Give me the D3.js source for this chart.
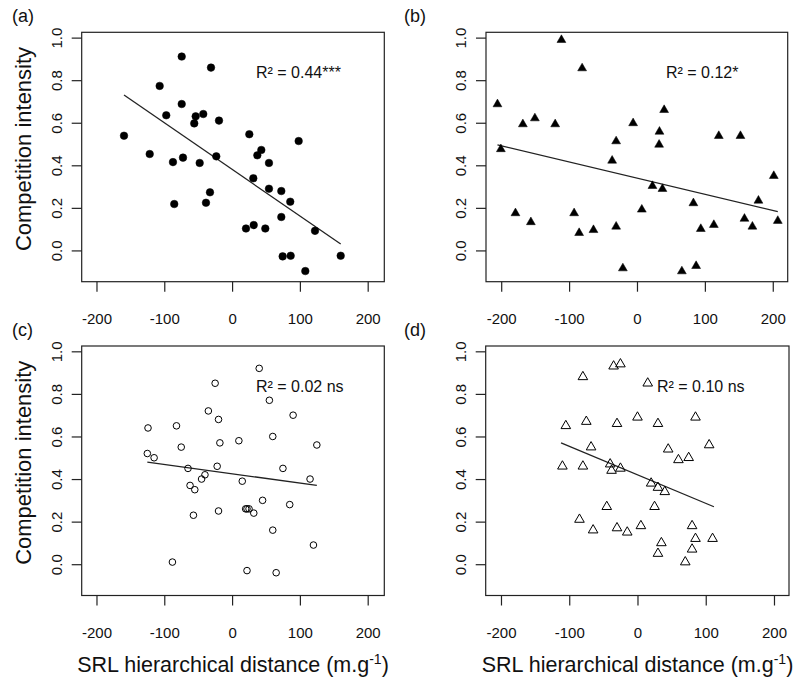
<!DOCTYPE html>
<html><head><meta charset="utf-8">
<script src="https://cdn.jsdelivr.net/npm/d3@7"></script>
<style>
body{margin:0;background:#fff;}
svg{display:block;font-family:"Liberation Sans",Arial,sans-serif;}
</style></head>
<body>
<svg id="chart" width="801" height="679"></svg>
<script>
// ---- tick labels ----
const xTicks = [-200, -100, 0, 100, 200];
const yTicks = [0.0, 0.2, 0.4, 0.6, 0.8, 1.0];
const yTickLabels = ["0.0", "0.2", "0.4", "0.6", "0.8", "1.0"];
const panelLabels = ["(a)", "(b)", "(c)", "(d)"];
const r2Labels = ["R² = 0.44***", "R² = 0.12*", "R² = 0.02 ns", "R² = 0.10 ns"];
const yTitle = "Competition intensity";

// ---- panel (a): filled circles ----
const aX = [-74.3,-31.1,-106.8,-74.3,-97.1,-53.7,-42.5,-55.8,-19.3,-159.4,-121.5,-23.3,-72.4,-87.2,-47.8,-32.6,-38.5,-85.3,25.4,98.2,43.1,37.2,54.4,31.3,54.4,72.6,85.8,72.6,20.5,31.9,49.0,122.3,74.6,86.4,160.2,108.0];
const aY = [0.911,0.859,0.773,0.688,0.635,0.630,0.641,0.597,0.610,0.539,0.453,0.442,0.436,0.415,0.411,0.273,0.224,0.218,0.546,0.514,0.472,0.447,0.411,0.339,0.290,0.279,0.229,0.157,0.103,0.119,0.103,0.092,-0.028,-0.025,-0.025,-0.097];
const aFitX = [-159.4, 160.2];
const aFitY = [0.730, 0.030];

// ---- panel (b): filled triangles ----
const bX = [-111.3,-80.8,-205.5,-168.1,-150.4,-120.5,-5.7,-30.7,-200.5,40.0,33.1,32.6,120.5,152.4,-36.6,-179.0,-156.3,-92.6,-85.2,-64.1,-30.7,-20.8,22.8,37.5,7.1,83.1,94.0,113.2,66.1,87.1,201.5,178.9,158.3,170.0,207.4];
const bY = [0.989,0.856,0.687,0.593,0.621,0.593,0.598,0.513,0.476,0.660,0.558,0.497,0.538,0.538,0.422,0.175,0.133,0.175,0.082,0.096,0.112,-0.084,0.303,0.289,0.192,0.222,0.101,0.120,-0.098,-0.073,0.350,0.234,0.149,0.112,0.139];
const bFitX = [-205.5, 207.4];
const bFitY = [0.496, 0.182];

// ---- panel (c): open circles ----
const cX = [-124,-125,-115,-82,-75,-88,-65,-62,-55,-57,-45,-40,-35,-25,-20,-18,-22,-20,40,10,15,20,22,25,22,32,45,55,60,60,65,75,85,90,115,120,125];
const cY = [0.64,0.52,0.50,0.65,0.55,0.01,0.45,0.37,0.35,0.23,0.40,0.42,0.72,0.85,0.68,0.57,0.46,0.25,0.92,0.58,0.39,0.26,0.26,0.26,-0.03,0.24,0.30,0.77,0.16,0.60,-0.04,0.45,0.28,0.70,0.40,0.09,0.56];
const cFitX = [-125, 125];
const cFitY = [0.48, 0.37];

// ---- panel (d): open triangles ----
const dX = [-110,-105,-85,-80,-80,-75,-68,-65,-45,-40,-38,-35,-30,-30,-25,-25,-15,0,5,15,20,25,30,30,30,35,40,45,60,70,75,80,85,85,80,105,110];
const dY = [0.46,0.65,0.21,0.88,0.46,0.67,0.55,0.16,0.27,0.47,0.44,0.93,0.66,0.17,0.94,0.45,0.15,0.69,0.18,0.85,0.38,0.27,0.36,0.66,0.05,0.10,0.34,0.54,0.49,0.01,0.50,0.18,0.69,0.12,0.07,0.56,0.12];
const dFitX = [-112, 112];
const dFitY = [0.57, 0.27];

const svg = d3.select("#chart");
const FONT = '"Liberation Sans",Arial,sans-serif';

const panels = [
  {xs:aX, ys:aY, fx:aFitX, fy:aFitY, shape:"circle", filled:true,  box:[81.7,32.3,384.3,281.7], r2x:256, lbl:[12,22], xdom:[-221.8,224.5], ylab:true},
  {xs:bX, ys:bY, fx:bFitX, fy:bFitY, shape:"triangle", filled:true, box:[486,32.3,787.7,281.7], r2x:666, lbl:[404,22], xdom:[-222.4,222.0], ylab:false},
  {xs:cX, ys:cY, fx:cFitX, fy:cFitY, shape:"circle", filled:false, box:[81.7,346,384.3,595.5], r2x:256, lbl:[12,336], xdom:[-221.8,224.5], ylab:true},
  {xs:dX, ys:dY, fx:dFitX, fy:dFitY, shape:"triangle", filled:false, box:[485.7,346,789,595.5], r2x:657, lbl:[404,336], xdom:[-222.4,222.0], ylab:false}
];

panels.forEach((p, i) => {
  const [x0, y0, x1, y1] = p.box;
  const x = d3.scaleLinear().domain(p.xdom).range([x0, x1]);
  const y = d3.scaleLinear().domain([-0.147, 1.025]).range([y1, y0]);
  const g = svg.append("g");

  // box
  g.append("rect").attr("x", x0).attr("y", y0).attr("width", x1 - x0).attr("height", y1 - y0)
    .attr("fill", "none").attr("stroke", "#222").attr("stroke-width", 1.2);

  // x axis
  const xa = g.append("g").attr("transform", `translate(0,${y1})`)
    .call(d3.axisBottom(x).tickValues(xTicks).tickSize(10).tickSizeOuter(0).tickFormat(d3.format("d")));
  xa.select(".domain").remove();
  xa.selectAll("line").attr("stroke", "#222").attr("stroke-width", 1.2);
  xa.selectAll("text").attr("font-size", 15).attr("font-family", FONT).attr("fill", "#111")
    .attr("dy", null).attr("y", 42).text(d => d < 0 ? "-" + Math.abs(d) : d);

  // y axis
  const ya = g.append("g").attr("transform", `translate(${x0},0)`)
    .call(d3.axisLeft(y).tickValues(yTicks).tickSize(10).tickSizeOuter(0));
  ya.select(".domain").remove();
  ya.selectAll("line").attr("stroke", "#222").attr("stroke-width", 1.2);
  ya.selectAll("text").remove();
  ya.selectAll(".tick").append("text")
    .attr("transform", "translate(-20,0) rotate(-90)")
    .attr("text-anchor", "middle").attr("font-size", 15).attr("font-family", FONT).attr("fill", "#111")
    .text((d, k) => yTickLabels[k]);

  // fit line
  const fit = p.fx.map((v, k) => [v, p.fy[k]]);
  g.append("path").datum(fit)
    .attr("d", d3.line().x(d => x(d[0])).y(d => y(d[1])))
    .attr("stroke", "#222").attr("stroke-width", 1.3).attr("fill", "none");

  // points
  const pts = p.xs.map((v, k) => [v, p.ys[k]]);
  if (p.shape === "circle") {
    g.selectAll(".pt").data(pts).enter().append("circle")
      .attr("cx", d => x(d[0])).attr("cy", d => y(d[1]))
      .attr("r", p.filled ? 3.8 : 3.3)
      .attr("fill", p.filled ? "#000" : "none")
      .attr("stroke", "#000").attr("stroke-width", p.filled ? 0.5 : 1);
  } else {
    const sym = d3.symbol().type(d3.symbolTriangle).size(p.filled ? 34 : 40);
    g.selectAll(".pt").data(pts).enter().append("path")
      .attr("d", sym)
      .attr("transform", d => `translate(${x(d[0])},${y(d[1])})`)
      .attr("fill", p.filled ? "#000" : "none")
      .attr("stroke", "#000").attr("stroke-width", p.filled ? 0.5 : 1);
  }

  // R2 text
  g.append("text").attr("x", p.r2x).attr("y", y0 + 46)
    .attr("font-size", 16).attr("font-family", FONT).attr("fill", "#111")
    .text(r2Labels[i]);

  // panel label
  svg.append("text").attr("x", p.lbl[0]).attr("y", p.lbl[1])
    .attr("font-size", 18).attr("font-family", FONT).attr("fill", "#111")
    .text(panelLabels[i]);

  // y title
  if (p.ylab) {
    svg.append("text")
      .attr("transform", `translate(31,${(y0 + y1) / 2 - 8}) rotate(-90)`)
      .attr("text-anchor", "middle").attr("font-size", 22).attr("font-family", FONT).attr("fill", "#111")
      .text(yTitle);
  }
});

// x titles
[233, 637.5].forEach(cx => {
  const t = svg.append("text").attr("x", cx).attr("y", 672)
    .attr("text-anchor", "middle").attr("font-size", 21.5).attr("font-family", FONT).attr("fill", "#111");
  t.append("tspan").text("SRL hierarchical distance (m.g");
  t.append("tspan").attr("font-size", 14).attr("dy", -8).text("-1");
  t.append("tspan").attr("dy", 8).text(")");
});
</script>
</body></html>
